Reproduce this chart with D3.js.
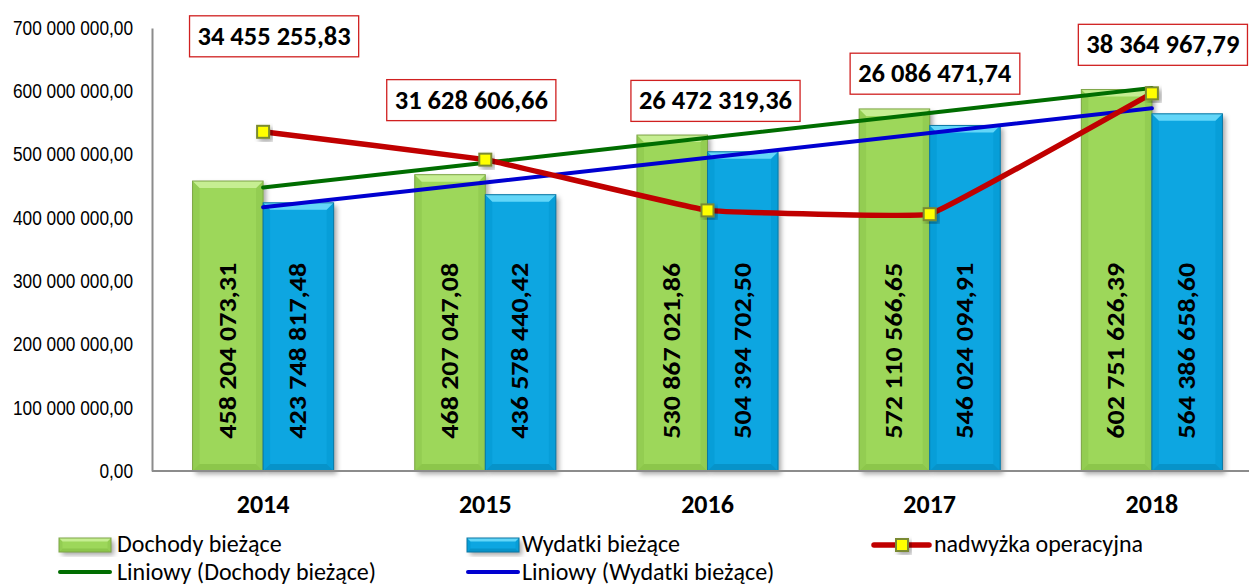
<!DOCTYPE html>
<html>
<head>
<meta charset="utf-8">
<script src="https://cdn.jsdelivr.net/npm/d3@7"></script>
<style>
  html, body { margin: 0; padding: 0; background: #fff; }
  svg { display: block; }
</style>
</head>
<body>
<svg id="chart"></svg>
<script>
// dane z wykresu
const years = ["2014", "2015", "2016", "2017", "2018"];
const dochody = [458204073.31, 468207047.08, 530867021.86, 572110566.65, 602751626.39];
const wydatki = [423748817.48, 436578440.42, 504394702.50, 546024094.91, 564386658.60];
const nadwyzka = [34455255.83, 31628606.66, 26472319.36, 26086471.74, 38364967.79];
const yTicks = [0, 100e6, 200e6, 300e6, 400e6, 500e6, 600e6, 700e6];
const seriesNames = ["Dochody bieżące", "Wydatki bieżące", "nadwyżka operacyjna",
                     "Liniowy (Dochody bieżące)", "Liniowy (Wydatki bieżące)"];

// przesunięcia etykiet nadwyżki względem punktu (ręcznie przesunięte w Excelu)
const boxOffsets = [[11, -96], [-14, -60], [8, -110], [5, -141], [11, -49]];

const W = 1249, H = 587;
const plotL = 152, plotR = 1263, plotT = 28, plotB = 471;
const calibri = "Carlito, Calibri, Lato, sans-serif";

const pl = d3.formatLocale({ decimal: ",", thousands: "\u00a0", grouping: [3], currency: ["", ""] });
const fmt = pl.format(",.2f");

const svg = d3.select("#chart").attr("width", W).attr("height", H);

const defs = svg.append("defs");
const sh = defs.append("filter").attr("id", "shadow")
  .attr("x", "-20%").attr("y", "-20%").attr("width", "150%").attr("height", "150%");
sh.append("feDropShadow").attr("dx", 3).attr("dy", 3).attr("stdDeviation", 2.5)
  .attr("flood-color", "#000").attr("flood-opacity", 0.35);

// Scales
const x0 = d3.scaleBand().domain(years).range([plotL, plotR])
  .paddingInner(0.365).paddingOuter(0.1825);
const x1 = d3.scaleBand().domain(["d", "w"]).range([0, x0.bandwidth()]);
const y = d3.scaleLinear().domain([0, 700e6]).range([plotB, plotT]);
const y2 = d3.scaleLinear().domain([0, 45e6]).range([plotB, plotT]);
const cx = d => x0(d) + x0.bandwidth() / 2;

// Y axis (wąski krój jak Arial Narrow)
const yAxis = d3.axisLeft(y).tickValues(yTicks).tickFormat(fmt).tickSize(0).tickPadding(19);
const ga = svg.append("g").attr("transform", `translate(${plotL},0)`).call(yAxis);
ga.select(".domain").attr("stroke", "#8c8c8c").attr("stroke-width", 2);
ga.selectAll("text")
  .style("font-family", "'Liberation Sans', Arial, sans-serif")
  .style("font-size", "20px").attr("fill", "#000");
const longest = d3.max(ga.selectAll("text").nodes(), n => n.getComputedTextLength());
const squeeze = 120 / longest;
ga.selectAll("text").each(function () {
  const w = this.getComputedTextLength();
  d3.select(this).attr("textLength", w * squeeze).attr("lengthAdjust", "spacingAndGlyphs");
});

// bevelled bar
const palettes = {
  d: { base: "#9dd75a", top: "#c6ee92", bot: "#8cc64b", side: "#93cd52", stroke: "#7ea548" },
  w: { base: "#08a6e1", top: "#63d6f8", bot: "#0793c9", side: "#079ed8", stroke: "#0b77a3" }
};
function bevelBar(g, x, yTop, w, h, p) {
  const b = Math.min(7, h / 4);
  const grp = g.append("g");
  grp.append("rect").attr("x", x).attr("y", yTop).attr("width", w).attr("height", h)
    .attr("fill", p.base).attr("filter", "url(#shadow)");
  grp.append("path").attr("fill", p.side)
    .attr("d", `M${x},${yTop}L${x + b},${yTop + b}L${x + b},${yTop + h - b}L${x},${yTop + h}Z`);
  grp.append("path").attr("fill", p.side)
    .attr("d", `M${x + w},${yTop}L${x + w - b},${yTop + b}L${x + w - b},${yTop + h - b}L${x + w},${yTop + h}Z`);
  grp.append("path").attr("fill", p.top)
    .attr("d", `M${x},${yTop}L${x + w},${yTop}L${x + w - b},${yTop + b}L${x + b},${yTop + b}Z`);
  grp.append("path").attr("fill", p.bot)
    .attr("d", `M${x},${yTop + h}L${x + w},${yTop + h}L${x + w - b},${yTop + h - b}L${x + b},${yTop + h - b}Z`);
  grp.append("rect").attr("x", x).attr("y", yTop).attr("width", w).attr("height", h)
    .attr("fill", "none").attr("stroke", p.stroke).attr("stroke-width", 1);
}

const bars = svg.append("g");
years.forEach((yr, i) => {
  bevelBar(bars, x0(yr) + x1("d"), y(dochody[i]), x1.bandwidth(), plotB - y(dochody[i]), palettes.d);
  bevelBar(bars, x0(yr) + x1("w"), y(wydatki[i]), x1.bandwidth(), plotB - y(wydatki[i]), palettes.w);
});

// X axis line
svg.append("line").attr("x1", plotL).attr("x2", W).attr("y1", plotB).attr("y2", plotB)
  .attr("stroke", "#8c8c8c").attr("stroke-width", 2);

// bar labels (rotated)
const labelY = y(190e6);
const lbl = svg.append("g")
  .style("font-family", calibri).style("font-weight", "bold").style("font-size", "25px");
years.forEach((yr, i) => {
  [["d", dochody[i]], ["w", wydatki[i]]].forEach(([k, v]) => {
    const xc = x0(yr) + x1(k) + x1.bandwidth() / 2;
    lbl.append("text")
      .attr("transform", `translate(${xc},${labelY}) rotate(-90) scale(1.12,0.95)`)
      .attr("text-anchor", "middle").attr("dy", "0.33em")
      .text(fmt(v));
  });
});

// x labels
svg.append("g").selectAll("text").data(years).join("text")
  .attr("x", d => cx(d)).attr("y", 513)
  .attr("text-anchor", "middle")
  .style("font-family", calibri).style("font-weight", "bold").style("font-size", "26px")
  .text(d => d);

// trend lines (regresja liniowa, jak w Excelu)
function trend(vals) {
  const n = vals.length, xs = d3.range(1, n + 1);
  const mx = d3.mean(xs), my = d3.mean(vals);
  const b = d3.sum(xs, (xv, i) => (xv - mx) * (vals[i] - my)) / d3.sum(xs, xv => (xv - mx) ** 2);
  return xs.map(xv => my + b * (xv - mx));
}
const line = d3.line().x((d, i) => cx(years[i])).y(d => y(d));
svg.append("path").datum(trend(dochody)).attr("d", line)
  .attr("fill", "none").attr("stroke", "#006d00").attr("stroke-width", 4).attr("stroke-linecap", "round");
svg.append("path").datum(trend(wydatki)).attr("d", line)
  .attr("fill", "none").attr("stroke", "#0000d0").attr("stroke-width", 4).attr("stroke-linecap", "round");

// nadwyżka operacyjna (oś pomocnicza, ukryta)
const line2 = d3.line().x((d, i) => cx(years[i])).y(d => y2(d)).curve(d3.curveCardinal.tension(0.82));
svg.append("path").datum(nadwyzka).attr("d", line2)
  .attr("fill", "none").attr("stroke", "#c00000").attr("stroke-width", 5.5).attr("stroke-linecap", "round");

function marker(g, x, yy) {
  g.append("rect").attr("x", x - 6).attr("y", yy - 6).attr("width", 12).attr("height", 12)
    .attr("fill", "#ffff00").attr("stroke", "#7a8a30").attr("stroke-width", 2)
    .attr("filter", "url(#shadow)");
}
const mk = svg.append("g");
nadwyzka.forEach((v, i) => marker(mk, cx(years[i]), y2(v)));

// etykiety nadwyżki w ramkach
const boxes = svg.append("g");
nadwyzka.forEach((v, i) => {
  const bx = cx(years[i]) + boxOffsets[i][0];
  const by = y2(v) + boxOffsets[i][1];
  const g = boxes.append("g");
  const r = g.append("rect").attr("fill", "#fff").attr("stroke", "#d02020").attr("stroke-width", 1.3);
  const t = g.append("text").attr("x", bx).attr("y", by).attr("text-anchor", "middle").attr("dy", "0.34em")
    .style("font-family", calibri).style("font-weight", "bold").style("font-size", "26.5px")
    .text(fmt(v));
  const bb = t.node().getBBox();
  r.attr("x", bb.x - 8).attr("y", by - 20).attr("width", bb.width + 16).attr("height", 41);
});

// legend
const leg = svg.append("g").style("font-family", calibri).style("font-size", "24px");
function legBar(x, yy, p) {
  bevelBar(leg, x, yy, 52, 14, p);
}
function legText(x, yy, s) {
  leg.append("text").attr("x", x).attr("y", yy).attr("dy", "0.33em").text(s);
}
legBar(59, 538, palettes.d); legText(117, 544, seriesNames[0]);
legBar(467, 538, palettes.w); legText(522, 544, seriesNames[1]);
leg.append("line").attr("x1", 874).attr("x2", 929).attr("y1", 545).attr("y2", 545)
  .attr("stroke", "#c00000").attr("stroke-width", 5.5).attr("stroke-linecap", "round");
marker(leg, 902, 545);
legText(934, 544, seriesNames[2]);
leg.append("line").attr("x1", 60).attr("x2", 110).attr("y1", 572).attr("y2", 572)
  .attr("stroke", "#006d00").attr("stroke-width", 4).attr("stroke-linecap", "round");
legText(117, 572, seriesNames[3]);
leg.append("line").attr("x1", 468).attr("x2", 518).attr("y1", 572).attr("y2", 572)
  .attr("stroke", "#0000d0").attr("stroke-width", 4).attr("stroke-linecap", "round");
legText(522, 572, seriesNames[4]);
</script>
</body>
</html>
